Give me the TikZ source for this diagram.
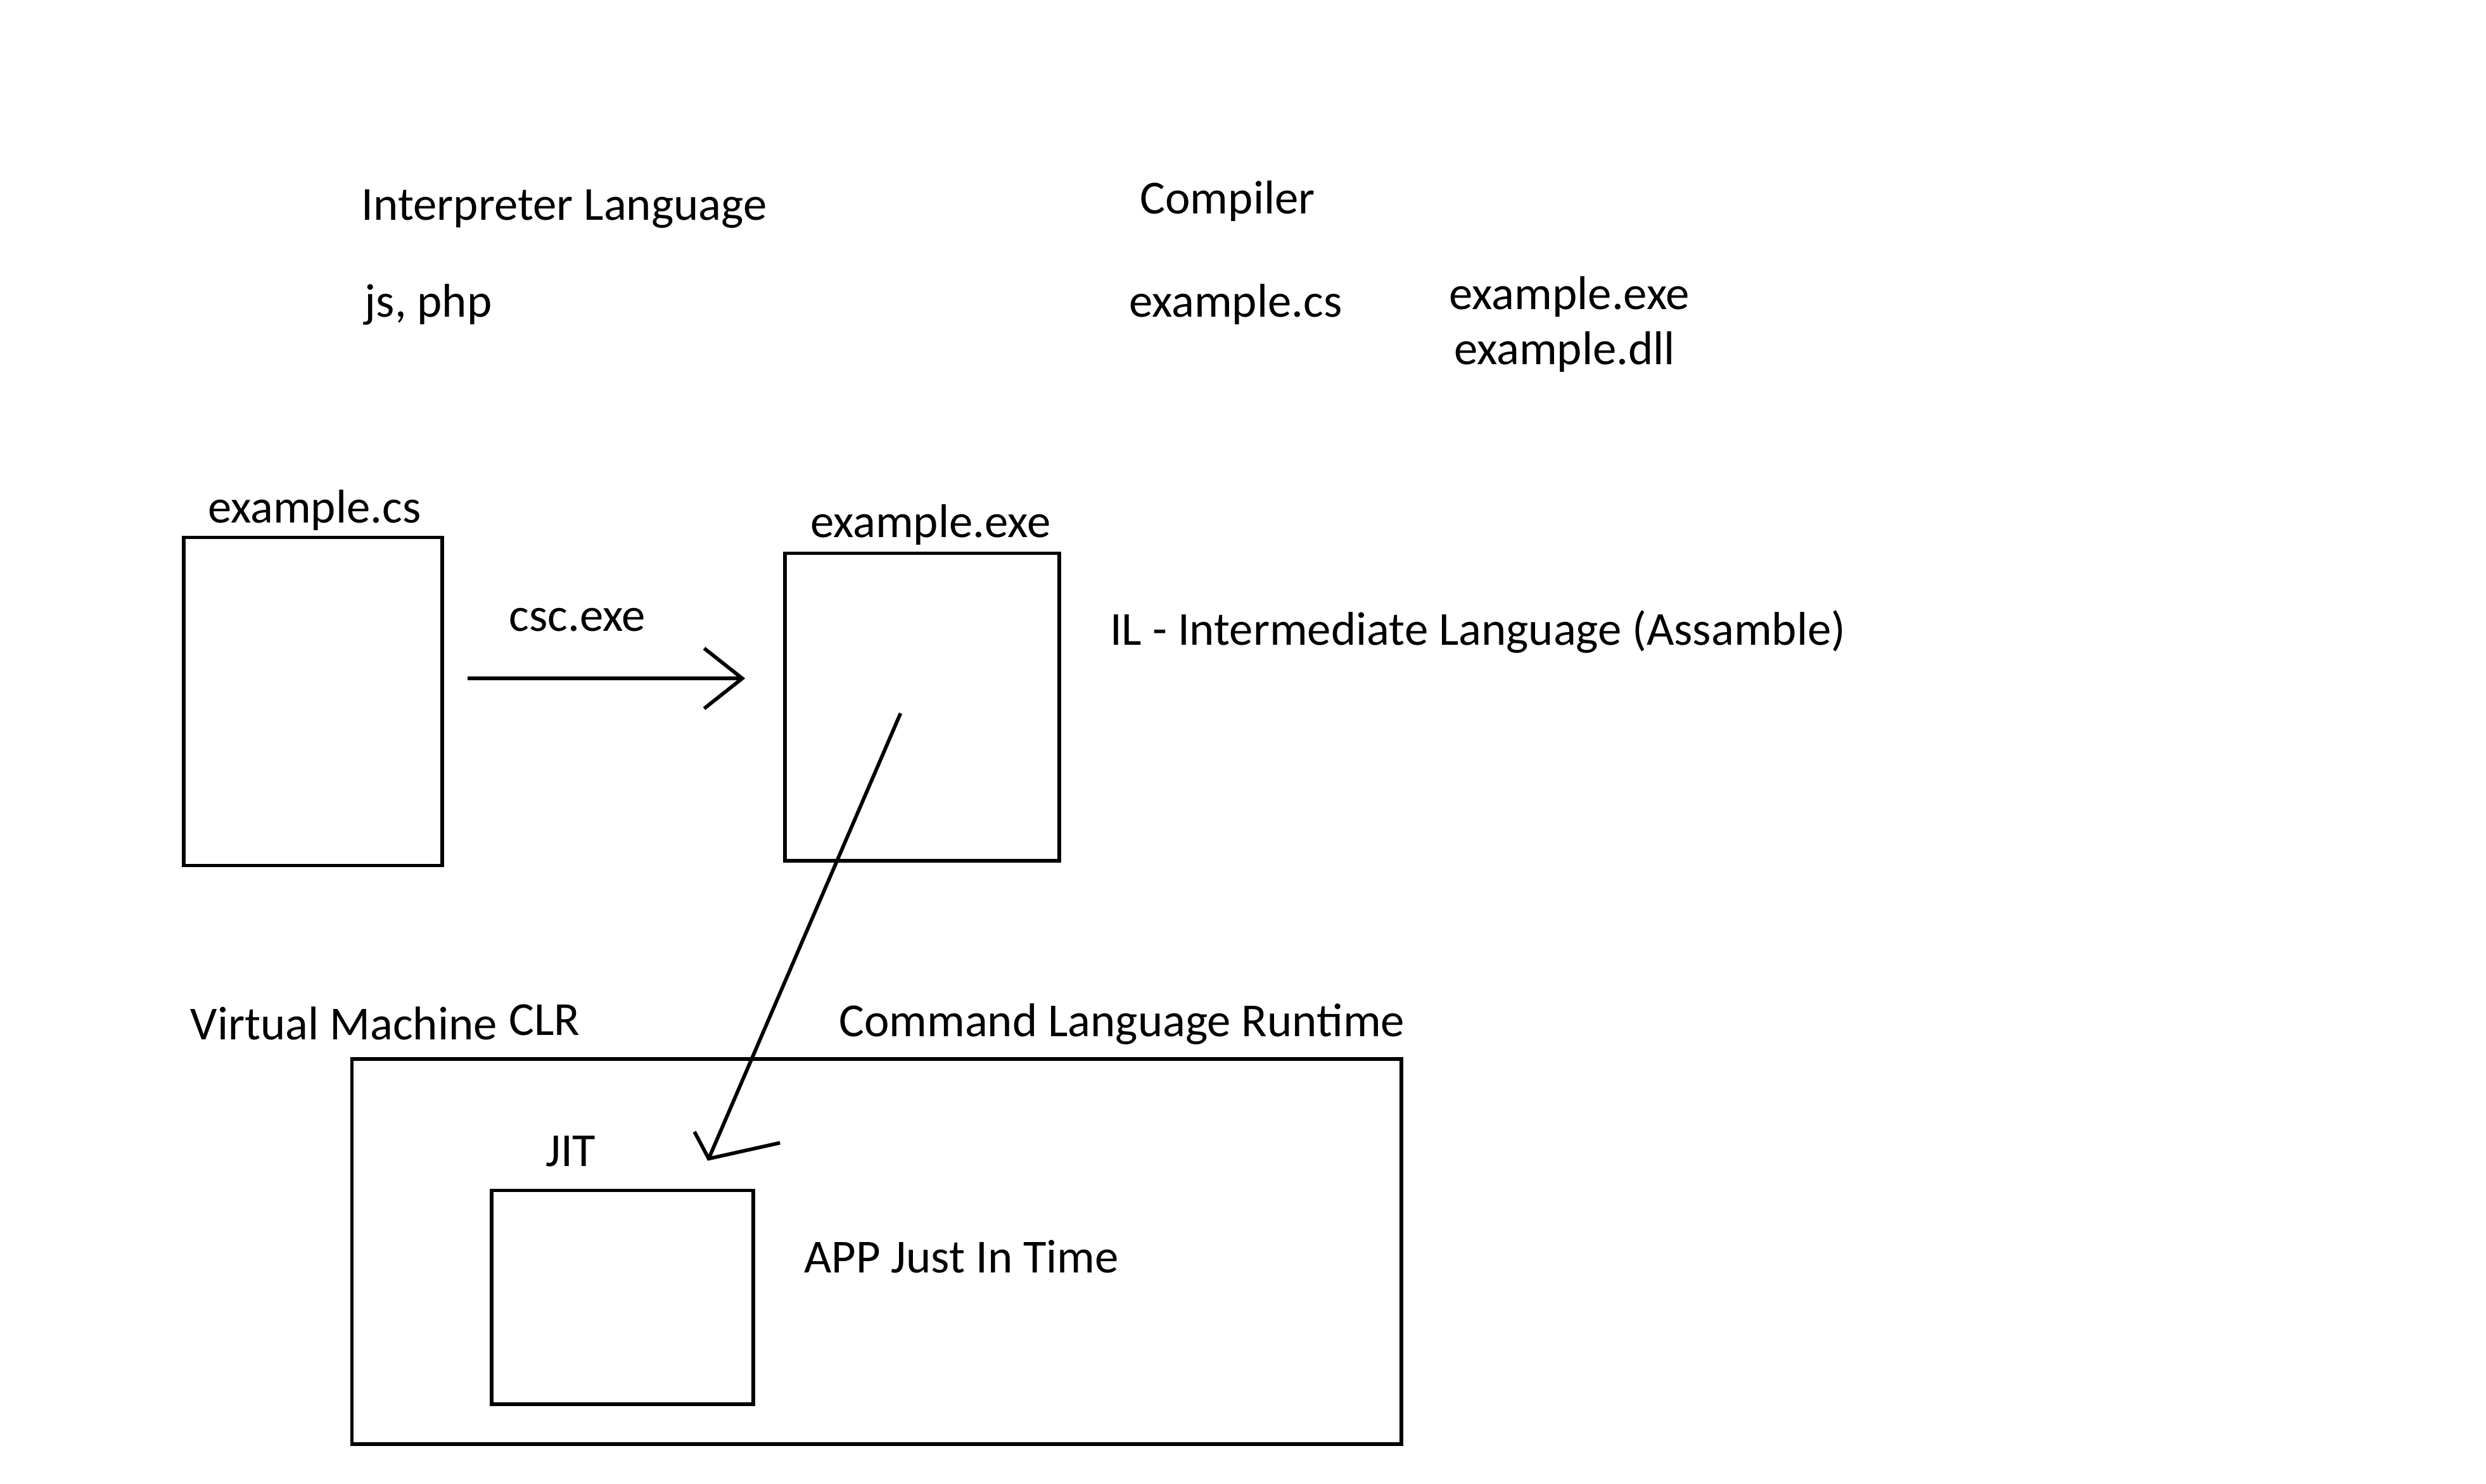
\documentclass[tikz,border=0pt]{standalone}
\usepackage{fontspec}
\setmainfont{Carlito}
\usetikzlibrary{arrows.meta,fit}
\begin{document}
\begin{tikzpicture}[x=0.01cm,y=-0.01cm,line width=0.65pt,
  box/.style={draw,line width=0.65pt,inner sep=0pt},
  lbl/.style={anchor=base west,inner sep=0pt,font=\fontsize{8.5}{10}\selectfont}]
\useasboundingbox[fill=white] (0,0) rectangle (1568,936);
% texts
\node[lbl] (interp) at (227,139) {Interpreter Language};
\node[lbl] (comp) at (718,135) {Compiler};
\node[lbl] (jsphp) at (229,200) {js, php};
\node[lbl] (excs) at (711,200) {example.cs};
\node[lbl] (exexe) at (913,195) {example.exe};
\node[lbl] (exdll) at (916,230) {example.dll};
\node[lbl] (srclbl) at (130,330) {example.cs};
\node[lbl] (csc) at (320,398) {csc.exe};
\node[lbl] (exelbl) at (510,339) {example.exe};
\node[lbl] (il) at (699,407) {IL - Intermediate Language (Assamble)};
\node[lbl] (vm) at (119,656) {Virtual Machine};
\node[lbl] (clr) at (320,653) {CLR};
\node[lbl] (clrname) at (528,654) {Command Language Runtime};
\node[lbl] (jit) at (343,736) {JIT};
\node[lbl] (app) at (506,803) {APP Just In Time};
% boxes
\node[box,fit={(116,339) (279,546)}] (src) {};
\node[box,fit={(495,349) (668,543)}] (exe) {};
\node[box,fit={(222,668) (884,911)}] (vmbox) {};
\node[box,fit={(310,751) (475,886)}] (jitbox) {};
% arrows
\coordinate (a1s) at (295,428);
\coordinate (a1e) at (470,428);
\draw[-{Straight Barb[length=0.24cm,width=0.38cm,line width=0.65pt]}] (a1s) -- (a1e);
\coordinate (a2s) at (568,450);
\coordinate (a2e) at (447,731);
\coordinate (b1) at (438,714);
\coordinate (b2) at (492,721);
\draw (a2s) -- (a2e);
\draw (b1) -- (a2e) -- (b2);
\end{tikzpicture}
\end{document}
